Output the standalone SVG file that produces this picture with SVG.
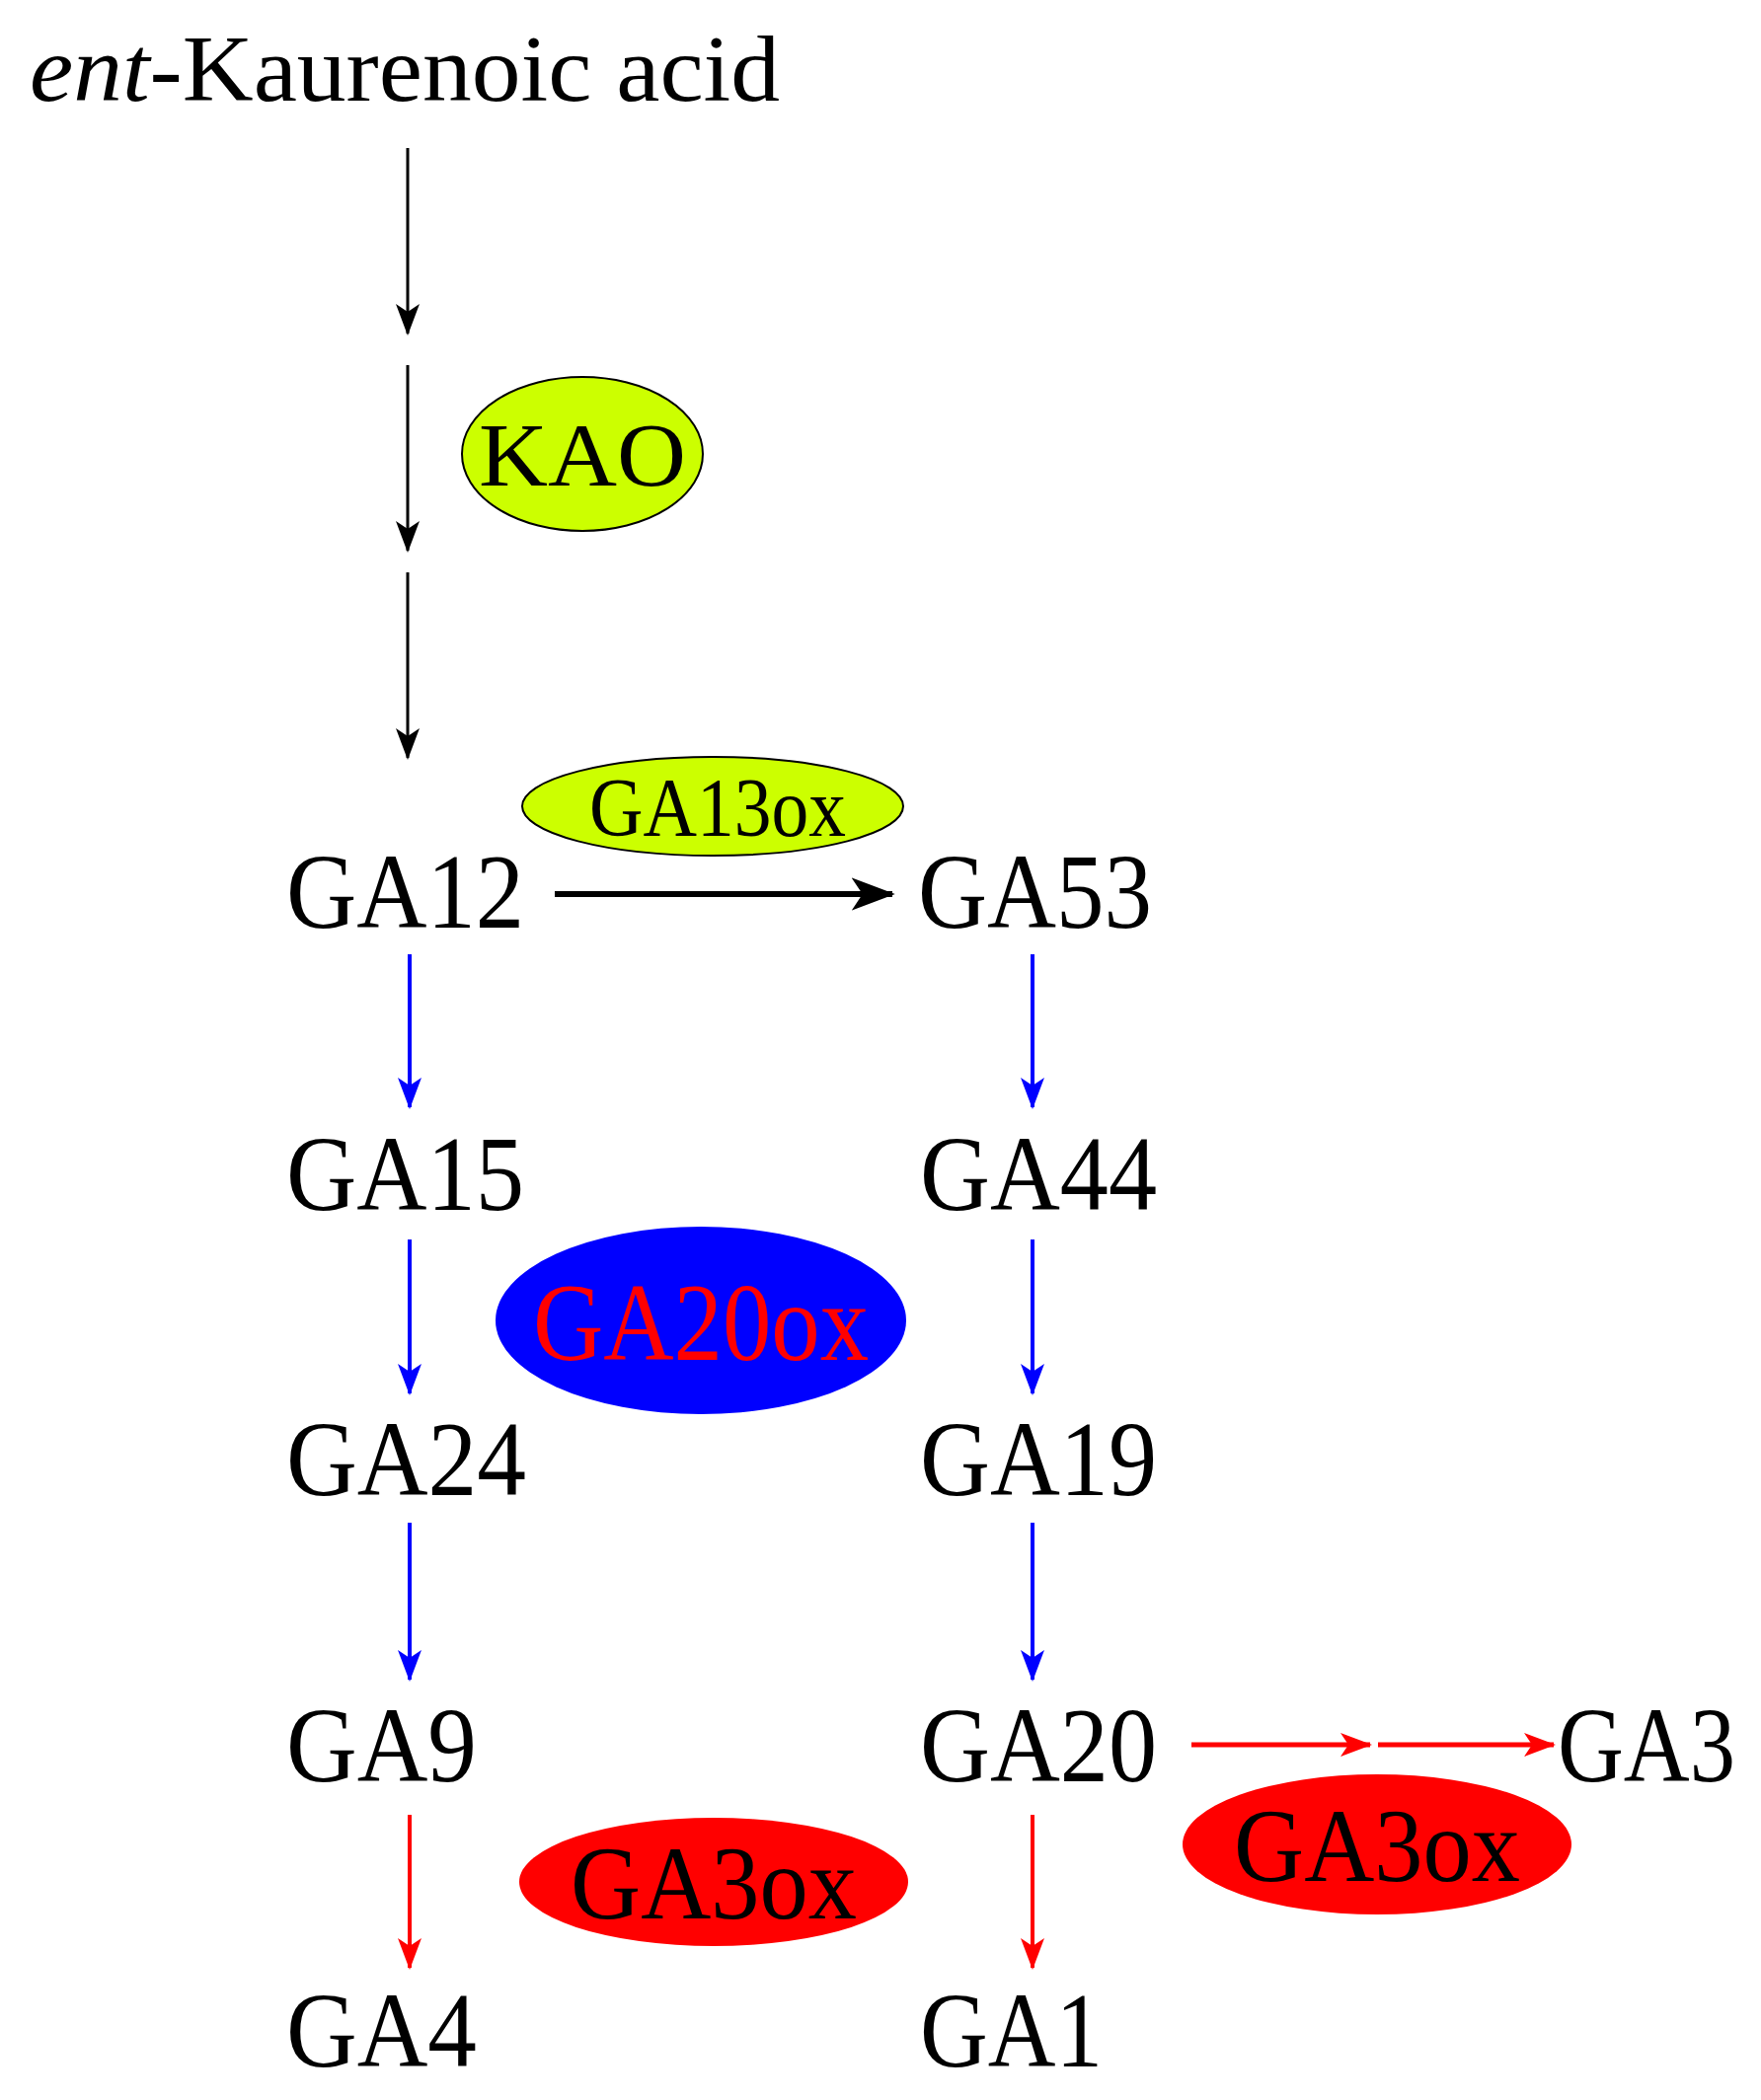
<svg xmlns="http://www.w3.org/2000/svg" width="1784" height="2128" viewBox="0 0 1784 2128">
<defs>
<style>
text{font-family:"Liberation Serif","Times New Roman",serif}
.ga{font-size:108px;fill:#000}
.bk{stroke:#000;stroke-width:4;fill:none}
.bl{stroke:#0000ff;stroke-width:4;fill:none}
.rd{stroke:#ff0000;stroke-width:4;fill:none}
</style>
<marker id="mk" viewBox="0 0 32 24" refX="30" refY="12" markerWidth="32" markerHeight="24" markerUnits="userSpaceOnUse" orient="auto"><path d="M0,0 L32,12 L0,24 L8,12 Z" fill="#000"/></marker>
<marker id="mk2" viewBox="0 0 32 24" refX="30" refY="12" markerWidth="44" markerHeight="34" markerUnits="userSpaceOnUse" orient="auto"><path d="M0,0 L32,12 L0,24 L8,12 Z" fill="#000"/></marker>
<marker id="mb" viewBox="0 0 32 24" refX="30" refY="12" markerWidth="32" markerHeight="24" markerUnits="userSpaceOnUse" orient="auto"><path d="M0,0 L32,12 L0,24 L8,12 Z" fill="#0000ff"/></marker>
<marker id="mr" viewBox="0 0 32 24" refX="30" refY="12" markerWidth="32" markerHeight="24" markerUnits="userSpaceOnUse" orient="auto"><path d="M0,0 L32,12 L0,24 L8,12 Z" fill="#ff0000"/></marker>
</defs>
<rect width="1784" height="2128" fill="#fff"/>
<g id="title"><text x="30" y="102" font-size="96" textLength="760" lengthAdjust="spacingAndGlyphs"><tspan font-style="italic">ent</tspan>-Kaurenoic acid</text></g>
<g id="connectors">
<path class="bk" d="M413,150V338" marker-end="url(#mk)" style="stroke-width:3"/>
<path class="bk" d="M413,370V558" marker-end="url(#mk)" style="stroke-width:3"/>
<path class="bk" d="M413,580V768" marker-end="url(#mk)" style="stroke-width:3"/>
<path class="bk" d="M562,906H904" marker-end="url(#mk2)" style="stroke-width:6"/>
<path class="bl" d="M415,967V1122" marker-end="url(#mb)"/>
<path class="bl" d="M415,1256V1412" marker-end="url(#mb)"/>
<path class="bl" d="M415,1543V1702" marker-end="url(#mb)"/>
<path class="bl" d="M1046,967V1122" marker-end="url(#mb)"/>
<path class="bl" d="M1046,1256V1412" marker-end="url(#mb)"/>
<path class="bl" d="M1046,1543V1702" marker-end="url(#mb)"/>
<path class="rd" d="M415,1839V1994" marker-end="url(#mr)"/>
<path class="rd" d="M1046,1839V1994" marker-end="url(#mr)"/>
<path class="rd" d="M1207,1768H1388" marker-end="url(#mr)" style="stroke-width:5"/>
<path class="rd" d="M1396,1768H1574" marker-end="url(#mr)" style="stroke-width:5"/>
</g>
<g id="KAO"><ellipse cx="590" cy="460" rx="122" ry="78" fill="#ccff00" stroke="#000" stroke-width="2"/><text x="590" y="492" font-size="92" text-anchor="middle" textLength="210" lengthAdjust="spacingAndGlyphs">KAO</text></g>
<g id="GA13ox"><ellipse cx="722" cy="817" rx="193" ry="50" fill="#ccff00" stroke="#000" stroke-width="2"/><text x="727" y="847" font-size="84" text-anchor="middle" textLength="260" lengthAdjust="spacingAndGlyphs">GA13ox</text></g>
<g id="GA20ox"><ellipse cx="710" cy="1338" rx="208" ry="95" fill="#0000ff"/><text x="710" y="1378" font-size="112" fill="#ff0000" text-anchor="middle" textLength="340" lengthAdjust="spacingAndGlyphs">GA20ox</text></g>
<g id="GA3ox1"><ellipse cx="723" cy="1907" rx="197" ry="65" fill="#ff0000"/><text x="723" y="1944" font-size="106" text-anchor="middle" textLength="290" lengthAdjust="spacingAndGlyphs">GA3ox</text></g>
<g id="GA3ox2"><ellipse cx="1395" cy="1869" rx="197" ry="71" fill="#ff0000"/><text x="1395" y="1906" font-size="106" text-anchor="middle" textLength="290" lengthAdjust="spacingAndGlyphs">GA3ox</text></g>
<g id="GA12"><text class="ga" x="290" y="940" textLength="241" lengthAdjust="spacingAndGlyphs">GA12</text></g>
<g id="GA53"><text class="ga" x="930" y="940" textLength="237" lengthAdjust="spacingAndGlyphs">GA53</text></g>
<g id="GA15"><text class="ga" x="290" y="1226" textLength="241" lengthAdjust="spacingAndGlyphs">GA15</text></g>
<g id="GA44"><text class="ga" x="932" y="1226" textLength="240" lengthAdjust="spacingAndGlyphs">GA44</text></g>
<g id="GA24"><text class="ga" x="290" y="1515" textLength="243" lengthAdjust="spacingAndGlyphs">GA24</text></g>
<g id="GA19"><text class="ga" x="932" y="1515" textLength="240" lengthAdjust="spacingAndGlyphs">GA19</text></g>
<g id="GA9"><text class="ga" x="290" y="1805" textLength="193" lengthAdjust="spacingAndGlyphs">GA9</text></g>
<g id="GA20"><text class="ga" x="932" y="1805" textLength="240" lengthAdjust="spacingAndGlyphs">GA20</text></g>
<g id="GA3"><text class="ga" x="1578" y="1805" textLength="180" lengthAdjust="spacingAndGlyphs">GA3</text></g>
<g id="GA4"><text class="ga" x="290" y="2094" textLength="193" lengthAdjust="spacingAndGlyphs">GA4</text></g>
<g id="GA1"><text class="ga" x="932" y="2094" textLength="185" lengthAdjust="spacingAndGlyphs">GA1</text></g>
</svg>
